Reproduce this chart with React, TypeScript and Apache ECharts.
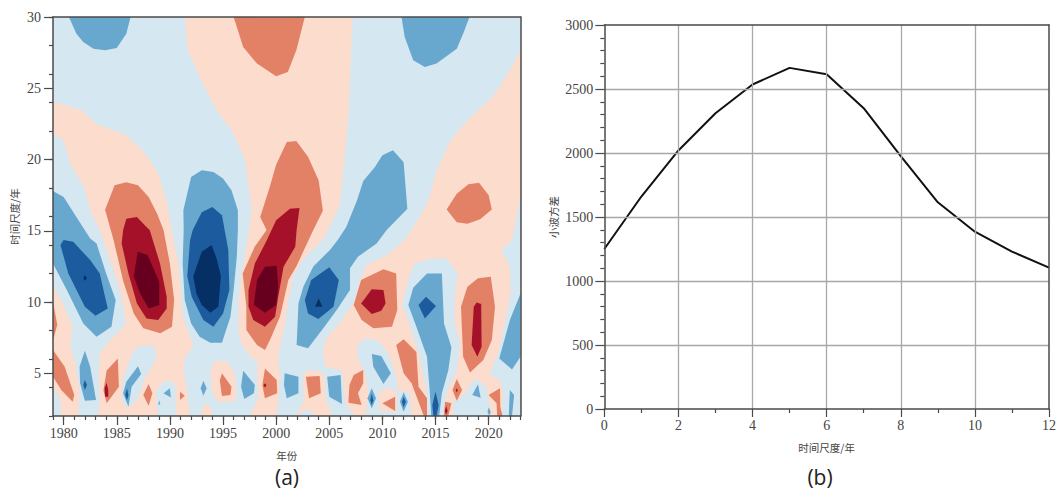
import React, { useEffect, useRef } from "react";
import * as echarts from "echarts";

type Pt = [number, number];

// (a) wavelet contour bands, as outlines in [year, time scale]
const paleRed: Pt[][] = [
  [[1979,24.08],[1981.7,23.45],[1983.1,22.5],[1985.9,21.7],[1987.5,20.6],[1988.8,19.2],[1989.7,17.1],[1990.2,15],[1990.8,12.7],[1991.1,10.4],[1991.2,8.97],[1992.2,6.98],[1991.4,6.04],[1991.3,5],[1991.6,4.06],[1991.7,3.1],[1991.9,2],[1983.2,2],[1983.4,3.1],[1983.3,4.5],[1983.4,6.4],[1984,7],[1985.9,8.5],[1985.3,10.84],[1983.4,15.05],[1982.6,16.2],[1981.9,18.1],[1980.6,19.7],[1980,21.35],[1979,21.8]],
  [[1979,11.2],[1980,9.8],[1980.85,8.27],[1980.6,7],[1981.1,5.7],[1981.5,3.8],[1981.4,2],[1979.8,2],[1979.7,3.2],[1979,4]],
  [[1991.4,30],[1991.7,27.66],[1992.8,25.79],[1994.4,23.45],[1996,21.8],[1997.1,19.9],[1997.7,16.4],[1997.5,15.26],[1996.9,12.7],[1996.5,10.4],[1996.44,8],[1996.76,7],[1997.5,6.28],[1998.3,5.7],[1998.2,5],[1998.3,3.2],[1997.7,2.3],[1997.5,2],[2000.05,2],[2000.2,2.9],[2000.36,5],[2000.2,5.7],[2000.36,6.86],[2000.8,8.27],[2001.1,9.9],[2001.6,11.8],[2002.6,13.06],[2004.4,14.35],[2005.94,16.67],[2006.3,19],[2006.8,22.98],[2007,26.5],[2007.2,30]],
  [[2023,27.66],[2022,26.26],[2020.4,24.4],[2018.2,22.9],[2016.4,21.35],[2015.1,19.2],[2014.3,17.1],[2013.5,15.97],[2012.1,14.33],[2010.4,13.3],[2008.5,12.6],[2007.9,11.5],[2007.4,10.1],[2006.3,8.85],[2004.6,7.33],[2004.4,6.5],[2004.6,5.46],[2006.2,5.2],[2006.5,2.9],[2007.4,2],[2023,2]],
  [[1993.8,5],[1994.1,5.81],[1995.3,5.9],[1996.1,5],[1996.3,3.6],[1996.1,3],[1994.5,3],[1994,3.6]],
  [[2002.56,4.9],[2002.9,5.2],[2004,5.2],[2004.6,4.8],[2004.6,3.6],[2004.8,2.9],[2005.2,2.3],[2005.2,2],[2003.5,2],[2003.35,2.4],[2002.7,2.4],[2001.8,2],[2002.56,2.9],[2002.56,3.8]],
  [[1997.9,2],[1998.1,2.6],[1998.4,2.9],[1998.9,2.6],[1999.2,2]],
  [[1992.9,2],[1993.05,2.6],[1993.4,2.9],[1993.85,2.6],[1994,2]],
];

const paleBlueIslands: Pt[][] = [
  [[1986.1,5.69],[1986.6,6.63],[1987.5,6.98],[1988.6,6.86],[1988.76,6.04],[1988.1,5.23],[1987.5,4.5],[1987.2,3.6],[1986.6,2.9],[1985.9,2.6],[1985.5,3.1],[1985.5,4.3],[1985.8,5]],
  [[1988.76,3.82],[1989.4,4.4],[1990.2,4.5],[1990.6,4],[1990.5,3.35],[1990.6,2],[1988.9,2],[1988.76,2.9]],
  [[2023,17.4],[2022.2,14.33],[2021.2,13.65],[2022,12.5],[2022.07,10.6],[2021.4,8],[2020.9,6.4],[2020.1,5],[2021.1,4.5],[2021.4,3.6],[2021.2,2],[2023,2]],
  [[2011.82,9.79],[2012.6,12],[2013.07,12.7],[2014.5,13.06],[2016.05,13.06],[2017.1,12],[2016.8,10.4],[2016.8,8.5],[2017.3,7.1],[2017,5.2],[2016.05,3.6],[2015.7,2],[2014.3,2],[2014.2,3.6],[2013.5,6.16],[2012.3,9]],
  [[2007.64,6.98],[2008.5,7.5],[2009.8,7.2],[2010.7,6.16],[2011.2,5],[2011.5,3.8],[2012.6,3.6],[2012.75,2],[2008.4,2],[2008.7,3.6],[2008.4,5],[2007.7,6]],
  [[2016.7,2],[2016.7,2.9],[2017.8,3.6],[2018.3,4.3],[2019,4.6],[2019.8,4],[2020,3.1],[2020.3,2]],
];

const paleRedIslands: Pt[][] = [
  [[2009.6,3.6],[2010.2,3.94],[2011.34,3.82],[2011.4,2.3],[2009.8,2.3]],
];

const midRed: Pt[][] = [
  [[1996,30],[1996.9,27.9],[1998.2,26.73],[2000,25.84],[2001.1,26.14],[2001.9,27.66],[2002.7,30]],
  [[1983.9,16.48],[1984.8,18.2],[1985.9,18.4],[1987,18.2],[1988,17.37],[1988.8,16.2],[1989.4,15.05],[1990,12.7],[1990.4,10.14],[1990.2,8.27],[1989.1,7.8],[1987.5,8.15],[1986.6,9.2],[1985.6,11.5],[1984.7,14.35]],
  [[2001,21.23],[2001.9,21.3],[2003,20.2],[2004,18.54],[2004.4,16.4],[2003.5,15.05],[2001.9,12.5],[2001.15,11.54],[2000.36,8.97],[1999.42,7.33],[1998.95,6.63],[1998.2,6.98],[1997.2,8.03],[1997.2,9.67],[1996.85,12],[1998,13.9],[1999.1,15.05],[1998.5,15.97],[1999.4,18.07],[2000,19.64]],
  [[2016.05,16.5],[2017,17.6],[2018.1,18.26],[2019.1,18.37],[2020,17.5],[2020.3,16.5],[2019.2,15.8],[2018,15.5],[2017,15.6]],
  [[2007.3,9.79],[2008,11.54],[2010.1,12.29],[2011.3,12],[2011.4,9.43],[2010.9,8.27],[2009.15,8.15],[2008.05,8.73]],
  [[2017.4,9.67],[2018,11.07],[2019,11.66],[2020.2,11.77],[2020.6,9.67],[2020.3,7.33],[2019.5,5.93],[2018.25,5.06],[2017.6,6.16]],
  [[2011.3,6.98],[2012,7.38],[2013.2,6.5],[2013.4,4.06],[2014.2,3.24],[2014.2,2],[2013.9,2],[2012.75,4.29],[2012,5]],
  [[1979,10],[1979.4,8.4],[1979,7.3]],
  [[1979,6.63],[1980.1,5.46],[1981,3.47],[1980.85,3],[1979.8,3.8],[1979,4.75]],
  [[1985.1,6.04],[1985.2,4.06],[1984.05,2.9],[1983.75,3.8],[1984.05,5.2]],
  [[1988,4.24],[1988.35,3.6],[1988,2.72],[1987.5,3.47]],
  [[1990.95,3.7],[1991.4,3.42],[1990.95,3.12]],
  [[1994.9,5],[1995.8,4.06],[1995.7,3.47],[1994.9,3.4],[1994.7,4.5]],
  [[1998.95,5.34],[2000.05,4.52],[2000.1,3.59],[1998.95,3.24],[1998.7,4.17]],
  [[2002.8,4.76],[2004.1,4.8],[2004.2,3.6],[2003.1,3.24]],
  [[2007.3,4.87],[2008.2,5.22],[2008.2,4.29],[2007.7,3.59],[2008.05,2.77],[2006.8,2.93],[2006.9,4.17]],
  [[2011.2,3.35],[2011.2,2.35],[2010,2.89]],
  [[2015.9,3],[2016.5,2.89],[2016.2,2],[2015.8,2]],
  [[2017,4.6],[2017.5,3.82],[2017,3.07],[2016.6,3.82]],
  [[2021.07,3.94],[2021.1,2.65],[2021.3,2],[2020.8,2],[2020.75,2.89],[2020,3.47]],
];

const midBlue: Pt[][] = [
  [[1980.5,30],[1981.2,28.83],[1981.85,28.25],[1982.8,27.78],[1983.9,27.66],[1985,27.82],[1985.9,28.83],[1986.3,30]],
  [[2011.8,30],[2012.1,28.6],[2012.9,26.96],[2014,26.5],[2015.1,26.73],[2017,27.78],[2017.6,28.83],[2018.2,30]],
  [[1979,17.79],[1980,17.37],[1981.2,15.97],[1982.5,14.45],[1983.1,14.1],[1984,12],[1984.9,10.14],[1984.5,8.27],[1983.1,7.56],[1981.85,8.5],[1980.3,10.84],[1979,12.71]],
  [[1992,18.77],[1993,19.24],[1994.1,19.12],[1995,18.66],[1995.8,17.84],[1996.4,16.43],[1996.4,15.05],[1996.3,13.2],[1996,10.84],[1995.7,8.97],[1994.9,7.14],[1993.8,7.14],[1992.8,7.56],[1992,8.5],[1991.4,10.14],[1991.2,12.7],[1991.3,15.05],[1991.27,16.43]],
  [[2005.8,14.35],[2006.6,15.27],[2007.6,17.1],[2008.2,18.5],[2009.3,19.47],[2010,20.3],[2011,20.65],[2012,19.8],[2012.35,16.55],[2011.3,15.73],[2010.4,15.05],[2009.46,14.11],[2007.7,13.18],[2006.95,12.36],[2006.95,10.84],[2005.7,9.43],[2004.44,8.15],[2003,6.75],[2001.93,6.98],[2002.1,9.9],[2002.56,11.07],[2003.5,12.5],[2005.07,13.65]],
  [[1982,6.58],[1982.5,5.46],[1983.05,3.12],[1982,3.07],[1981.55,4.3],[1981.5,5.46]],
  [[1987,5.5],[1987.3,4.94],[1986.4,4.06],[1986.1,2.65],[1985.6,3.6],[1985.9,4.4]],
  [[1989.4,3.6],[1990,3.94],[1990.1,3.3]],
  [[1989,3.1],[1989.1,2.8],[1988.9,2.8]],
  [[1993.15,4.48],[1993.46,3.94],[1993.15,3.42],[1992.9,3.94]],
  [[1996.9,5.18],[1998,4.17],[1997.9,3.59],[1997,3.19],[1996.7,4.06]],
  [[2000.8,5],[2002.1,4.76],[2002.1,3.6],[2001,3.24],[2000.74,4.17]],
  [[2004.8,4.76],[2006.07,4.87],[2006.2,2.84],[2005,3.35]],
  [[2009,6.35],[2009.9,6.21],[2010.8,5],[2010.1,4.24],[2009.15,5.46]],
  [[2009,3.94],[2009.4,3.24],[2009,2.54],[2008.6,3.24]],
  [[2012,3.66],[2012.4,3],[2012,2.3],[2011.65,3]],
  [[2012.44,9.79],[2012.9,11],[2014.2,12],[2015.6,12],[2015.8,8.5],[2016.5,6.8],[2016.2,5.2],[2015.6,3.6],[2015.35,2],[2014.6,2],[2014.45,3.8],[2014.2,6.16],[2013.2,8.27]],
  [[2019,4.22],[2019.25,3.28],[2018.46,3.47]],
  [[2020,2.6],[2020.2,2.3],[2020.06,2],[2019.9,2.3]],
  [[2022,3.82],[2022.4,3.47],[2022.2,2],[2021.9,2],[2021.95,3.1]],
  [[2023,10.6],[2022,8.73],[2021,6.04],[2022.2,5.27],[2023,6.16]],
];

const deepRed: Pt[][] = [
  [[1985.9,15.85],[1986.9,15.97],[1987.8,15.26],[1988.1,15.05],[1989.07,12.7],[1989.7,10.37],[1989.7,9.55],[1988.9,8.73],[1987.8,8.85],[1986.9,9.9],[1986.1,12],[1985.46,14.11],[1985.6,15.05]],
  [[2002.2,16.6],[2001.3,16.55],[2000,15.73],[1999.1,14.3],[1998,12.7],[1997.4,10.84],[1997.4,9.67],[1997.85,8.73],[1998.95,8.27],[1999.9,8.97],[2000.2,10.37],[2000.7,12.47],[2001.8,13.88],[2001.93,15.05]],
  [[2008,9.9],[2009,10.9],[2010.1,10.84],[2010.3,9.9],[2009.9,9.39],[2009,9.15]],
  [[2018.6,9.67],[2018.87,9.97],[2019.3,9.86],[2019.34,6.86],[2018.94,6.16],[2018.4,6.98]],
  [[1984.05,4.34],[1984.2,3.82],[1984.2,3.35],[1983.9,3.35],[1983.86,3.94]],
  [[2016,2.7],[2016.15,2.35],[2016,2.1],[2015.87,2.35]],
  [[1998.95,4.3],[1999.1,4.15],[1998.95,4],[1998.8,4.15]],
  [[2017,3.95],[2017.1,3.8],[2017,3.65],[2016.9,3.8]],
];

const deepBlue: Pt[][] = [
  [[1979.7,14],[1980,14.35],[1980.9,14.23],[1982.5,12.94],[1983.4,12],[1984.15,9.55],[1983,9.04],[1982,9.67],[1980.44,12]],
  [[1993,16.3],[1994,16.67],[1994.9,16.08],[1995.5,13.65],[1995.6,10.84],[1995,9.2],[1994.1,8.27],[1993.15,8.73],[1992.05,10.37],[1991.64,11.8],[1991.9,14.35],[1992.15,15.05]],
  [[2002.7,10.14],[2003.3,11.54],[2005,12.43],[2005.9,11.54],[2005.4,9.67],[2003.97,8.8],[2003,9.2]],
  [[2013.4,9.79],[2014.1,10.37],[2015.05,9.72],[2014,8.85]],
  [[2009,3.59],[2009.15,3.1],[2009,2.77],[2008.86,3.1]],
  [[2012,3.35],[2012.2,3],[2012,2.6],[2011.85,3]],
  [[2015,3.7],[2015.3,2.77],[2015.1,2],[2014.8,2],[2014.7,2.77]],
  [[1982,4.52],[1982.2,4.17],[1982,3.82],[1981.85,4.17]],
  [[1985.96,3.94],[1986.1,3.47],[1985.96,3.1],[1985.8,3.47]],
];

const darkestRed: Pt[][] = [
  [[1986.97,13.53],[1987.9,13.3],[1989,11.42],[1989,9.79],[1988,9.55],[1987.2,10.6],[1986.6,11.8]],
  [[1998.95,12.48],[2000.05,12.55],[2000.2,11.07],[2000,9.79],[1998.95,9.25],[1997.9,9.79],[1998.2,11.54]],
];

const darkestBlue: Pt[][] = [
  [[1993.93,14],[1993,13.53],[1992.2,11.8],[1992.5,10.6],[1993,9.79],[1993.8,9.25],[1994.56,9.67],[1994.8,11.8],[1994.4,13.06]],
  [[2004,10.25],[2004.36,9.67],[2003.66,9.67]],
  [[1981.85,11.66],[1982,11.9],[1982.2,11.66],[1982,11.5]],
];

// (b) wavelet variance
const scaleYears = [0, 1, 2, 3, 4, 5, 6, 7, 8, 9, 10, 11, 12];
const variance = [1250, 1660, 2020, 2310, 2535, 2665, 2615, 2350, 1975, 1615, 1385, 1230, 1105];

const xMajor = [1980, 1985, 1990, 1995, 2000, 2005, 2010, 2015, 2020];
const xAll = Array.from({ length: 45 }, (_, i) => 1979 + i);
const yMajor = [5, 10, 15, 20, 25, 30];
const yEven = [2, 4, 6, 8, 10, 12, 14, 16, 18, 20, 22, 24, 26, 28, 30];

const layers: [Pt[][], string][] = [
  [paleRed, "#fbdccd"],
  [paleBlueIslands, "#d5e7f1"],
  [paleRedIslands, "#fbdccd"],
  [midRed, "#e28166"],
  [midBlue, "#68a8cf"],
  [deepRed, "#a6112a"],
  [deepBlue, "#1c5c9e"],
  [darkestRed, "#67001f"],
  [darkestBlue, "#062f66"],
];

const textColor = "#444";
const axisDark = "#4a4a4a";
const serif = "'Liberation Serif', serif";
const cjk = "'Noto Sans CJK SC', sans-serif";
const labelStyle = { color: textColor, fontFamily: serif, fontSize: 14 };
const nameStyle = { color: textColor, fontFamily: cjk, fontSize: 10.5 };
const lineDark = { show: true, lineStyle: { color: axisDark, width: 1.5 } };
const plain = (v: number) => String(v);

const borderAxis = (gridIndex: number, position: string, min: number, max: number) => ({
  type: "value", gridIndex, position, min, max, z: 6,
  axisLine: { ...lineDark, onZero: false },
  axisTick: { show: false }, axisLabel: { show: false }, splitLine: { show: false },
});

export default function App() {
  const ref = useRef<HTMLDivElement>(null);
  useEffect(() => {
    const chart = echarts.init(ref.current!, null, { renderer: "svg" });
    const contourSeries = layers.map(([polys, color], li) => ({
      type: "custom",
      xAxisIndex: 0,
      yAxisIndex: 0,
      z: 2 + li * 0.01,
      clip: true,
      silent: true,
      data: polys.map((_, i) => [i]),
      encode: { x: [], y: [] },
      renderItem: (_p: any, api: any) => {
        const poly = polys[api.value(0)];
        return {
          type: "polygon",
          shape: { points: poly.map((pt) => api.coord(pt)) },
          style: { fill: color, stroke: "none" },
        };
      },
    }));
    chart.setOption({
      animation: false,
      backgroundColor: "#fff",
      grid: [
        { left: 53, top: 17, width: 467.5, height: 399, show: true, backgroundColor: "#d5e7f1", borderWidth: 0 },
        { left: 604.3, top: 25, width: 450, height: 384 },
      ],
      xAxis: [
        {
          type: "value", gridIndex: 0, min: 1979, max: 2023, position: "bottom", z: 6,
          name: "年份", nameLocation: "middle", nameGap: 34, nameTextStyle: nameStyle,
          axisLine: { ...lineDark, onZero: false },
          axisTick: { show: true, length: 9, customValues: xMajor, lineStyle: { color: axisDark, width: 1.2 } },
          axisLabel: { ...labelStyle, margin: 10, customValues: xMajor, formatter: plain },
          splitLine: { show: false },
        },
        {
          type: "value", gridIndex: 0, min: 1979, max: 2023, position: "bottom", z: 6,
          axisLine: { show: false },
          axisTick: { show: true, length: 4, customValues: xAll, lineStyle: { color: axisDark, width: 1.2 } },
          axisLabel: { show: false }, splitLine: { show: false },
        },
        borderAxis(0, "top", 1979, 2023),
        {
          type: "value", gridIndex: 1, min: 0, max: 12, interval: 2, position: "bottom", z: 6,
          name: "时间尺度/年", nameLocation: "middle", nameGap: 33, nameTextStyle: nameStyle,
          axisLine: { ...lineDark, onZero: false },
          axisTick: { show: true, length: 8, lineStyle: { color: axisDark, width: 1.2 } },
          minorTick: { show: true, splitNumber: 2, length: 4, lineStyle: { color: axisDark, width: 1.2 } },
          axisLabel: { ...labelStyle, margin: 9, formatter: plain },
          splitLine: { show: true, showMinLine: false, showMaxLine: false, lineStyle: { color: "#a8a8a8", width: 1.3 } },
        },
        borderAxis(1, "top", 0, 12),
      ],
      yAxis: [
        {
          type: "value", gridIndex: 0, min: 2, max: 30, position: "left", z: 6,
          name: "时间尺度/年", nameLocation: "middle", nameGap: 33, nameTextStyle: nameStyle,
          axisLine: { ...lineDark, onZero: false },
          axisTick: { show: true, length: 9, customValues: yMajor, lineStyle: { color: axisDark, width: 1.2 } },
          axisLabel: { ...labelStyle, margin: 12, customValues: yMajor, formatter: plain },
          splitLine: { show: false },
        },
        {
          type: "value", gridIndex: 0, min: 2, max: 30, position: "left", z: 6,
          axisLine: { show: false },
          axisTick: { show: true, length: 4, customValues: yEven, lineStyle: { color: axisDark, width: 1.2 } },
          axisLabel: { show: false }, splitLine: { show: false },
        },
        borderAxis(0, "right", 2, 30),
        {
          type: "value", gridIndex: 1, min: 0, max: 3000, interval: 500, position: "left", z: 6,
          name: "小波方差", nameLocation: "middle", nameGap: 46, nameTextStyle: nameStyle,
          axisLine: { ...lineDark, onZero: false },
          axisTick: { show: true, length: 9, lineStyle: { color: axisDark, width: 1.2 } },
          minorTick: { show: true, splitNumber: 5, length: 4, lineStyle: { color: axisDark, width: 1.2 } },
          axisLabel: { ...labelStyle, margin: 11, formatter: plain },
          splitLine: { show: true, showMinLine: false, showMaxLine: false, lineStyle: { color: "#a8a8a8", width: 1.3 } },
        },
        borderAxis(1, "right", 0, 3000),
      ],
      series: [
        ...contourSeries,
        {
          type: "line", xAxisIndex: 3, yAxisIndex: 3, z: 5,
          data: scaleYears.map((x, i) => [x, variance[i]]),
          showSymbol: false, symbol: "none", smooth: false,
          lineStyle: { color: "#111", width: 2 },
        },
      ],
      graphic: [
        { type: "text", x: 287, y: 477, style: { text: "(a)", fontFamily: "'Open Sans', sans-serif", fontSize: 21, fill: "#222", textAlign: "center", textVerticalAlign: "middle" } },
        { type: "text", x: 820, y: 477, style: { text: "(b)", fontFamily: "'Open Sans', sans-serif", fontSize: 21, fill: "#222", textAlign: "center", textVerticalAlign: "middle" } },
      ],
    });
    return () => chart.dispose();
  }, []);
  return <div ref={ref} style={{ position: "fixed", left: 0, top: 0, width: 1059, height: 488, background: "#fff" }} />;
}
